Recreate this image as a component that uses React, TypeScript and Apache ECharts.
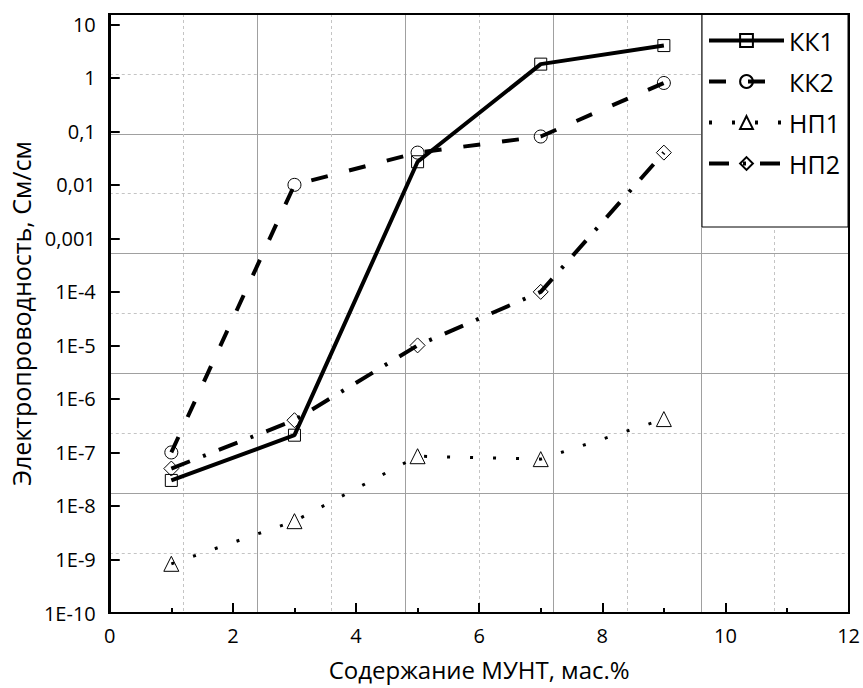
import React, { useEffect, useRef } from 'react';
import * as echarts from 'echarts';

const xValues = [1, 3, 5, 7, 9];
const kk1 = [3e-8, 2.1e-7, 0.027, 1.8, 4];
const kk2 = [1e-7, 0.01, 0.04, 0.08, 0.8];
const np1 = [8.3e-10, 5.2e-9, 8.5e-8, 7.5e-8, 4.2e-7];
const np2 = [5e-8, 4e-7, 1e-5, 1e-4, 0.04];
const seriesNames = ['КК1', 'КК2', 'НП1', 'НП2'];
const yTickLabels = ['1E-10', '1E-9', '1E-8', '1E-7', '1E-6', '1E-5', '1E-4', '0,001', '0,01', '0,1', '1', '10'];
const xTitle = 'Содержание МУНТ, мас.%';
const yTitle = 'Электропроводность, См/см';

export default function App() {
  const ref = useRef<HTMLDivElement>(null);
  useEffect(() => {
    document.body.style.margin = '0';
    const chart = echarts.init(ref.current!, null, { renderer: 'svg' });
    const font = "'Open Sans', sans-serif";
    const mk = (name: string, data: number[], symbol: string, size: number, lineType: any, width: number) => ({
      type: 'line',
      name,
      data: xValues.map((x, i) => [x, data[i]]),
      xAxisIndex: 0,
      yAxisIndex: 0,
      symbol,
      symbolSize: size,
      showAllSymbol: true,
      itemStyle: { color: 'rgba(255,255,255,0)', borderColor: '#000', borderWidth: 1 },
      lineStyle: { color: '#000', width, type: lineType, cap: 'butt' },
      emphasis: { disabled: true },
      z: 3,
    });
    const yLabel = (v: number) => {
      const l = Math.log10(v);
      const e = Math.round(l);
      if (Math.abs(l - e) > 1e-6) return '';
      return yTickLabels[e + 10] ?? '';
    };
    chart.setOption({
      animation: false,
      color: ['#000'],
      grid: { left: 109, right: 14, top: 14, bottom: 75 },
      xAxis: [
        {
          type: 'value', min: 0, max: 12, interval: 2, position: 'bottom',
          axisLine: { show: true, lineStyle: { color: '#000', width: 2 } },
          axisTick: { show: true, inside: true, length: 10, lineStyle: { color: '#000', width: 2 } },
          minorTick: { show: true, splitNumber: 2, length: 5, lineStyle: { color: '#000', width: 2 } },
          axisLabel: { color: '#000', fontFamily: font, fontSize: 20, margin: 12 },
          splitLine: { show: false },
          name: xTitle, nameLocation: 'middle', nameGap: 44,
          nameTextStyle: { color: '#000', fontFamily: font, fontSize: 24 },
        },
        {
          type: 'value', min: 0, max: 12, interval: 2.4, position: 'top',
          axisLine: { show: false }, axisTick: { show: false }, axisLabel: { show: false },
          splitLine: { show: true, lineStyle: { color: '#a0a0a0', width: 1 } },
          minorTick: { show: false, splitNumber: 2 },
          minorSplitLine: { show: true, lineStyle: { color: '#c4c4c4', width: 1, type: [3, 3] } },
        },
      ],
      yAxis: [
        {
          type: 'log', min: 1e-10, max: 15.56, interval: 1, logBase: 10,
          axisLine: { show: true, lineStyle: { color: '#000', width: 2 } },
          axisTick: { show: true, inside: true, length: 10, lineStyle: { color: '#000', width: 2 } },
          axisLabel: { color: '#000', fontFamily: font, fontSize: 20, margin: 14, formatter: yLabel },
          splitLine: { show: false },
          name: yTitle, nameLocation: 'middle', nameGap: 72,
          nameTextStyle: { color: '#000', fontFamily: font, fontSize: 25 },
        },
        {
          type: 'value', min: 0, max: 10, interval: 2, position: 'right',
          axisLine: { show: false }, axisTick: { show: false }, axisLabel: { show: false },
          splitLine: { show: true, lineStyle: { color: '#a0a0a0', width: 1 } },
          minorTick: { show: false, splitNumber: 2 },
          minorSplitLine: { show: true, lineStyle: { color: '#c4c4c4', width: 1, type: [3, 3] } },
        },
      ],
      legend: {
        orient: 'vertical', left: 702, top: 23, itemWidth: 75, itemHeight: 16, itemGap: 16,
        textStyle: { fontFamily: font, fontSize: 25, color: '#000', lineHeight: 25 },
        lineStyle: { width: 4 },
        data: seriesNames, z: 60, selectedMode: false,
      },
      graphic: [
        { type: 'rect', z: 50, shape: { x: 702, y: 14, width: 146, height: 213 }, style: { fill: '#fff', stroke: '#000', lineWidth: 1 } },
        { type: 'rect', z: 70, shape: { x: 109, y: 14, width: 740, height: 599 }, style: { fill: 'none', stroke: '#000', lineWidth: 2 } },
      ],
      series: [
        mk(seriesNames[0], kk1, 'rect', 12, 'solid', 4),
        mk(seriesNames[1], kk2, 'circle', 13, [17, 22], 4),
        mk(seriesNames[2], np1, 'triangle', 15, [3, 20], 3),
        mk(seriesNames[3], np2, 'diamond', 15, [20, 14, 3, 14], 4),
      ],
    });
    return () => chart.dispose();
  }, []);
  return <div ref={ref} style={{ width: 863, height: 688 }} />;
}
